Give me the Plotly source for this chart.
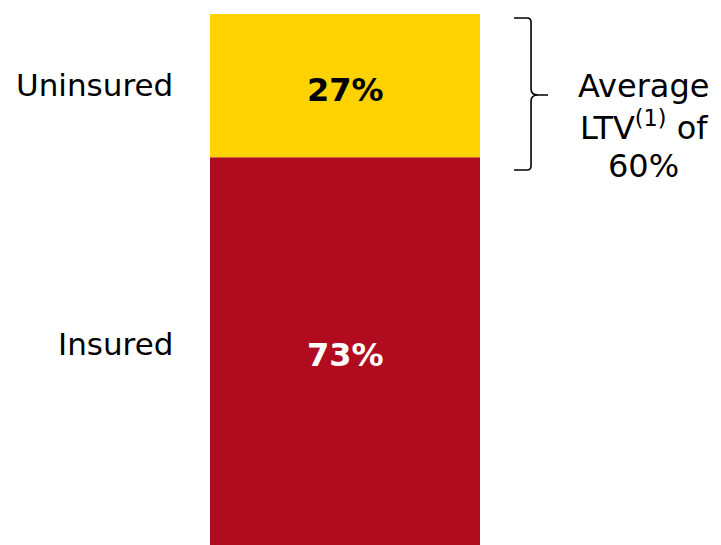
import plotly.graph_objects as go

categories = ["Insured", "Uninsured"]
shares = [73, 27]
colors = ["#B00B1E", "#FFD200"]
text_colors = ["white", "black"]
side_note_lines = ["Average", "LTV<sup>(1)</sup> of", "60%"]

fig = go.Figure()
base = 0
for cat, val, col, tc in zip(categories, shares, colors, text_colors):
    fig.add_trace(go.Bar(x=[0], y=[val], base=[base], width=1, marker_color=col,
                         marker_line_width=0, name=cat, hoverinfo="skip"))
    mid = base + val / 2
    fig.add_annotation(x=0, y=mid, xref="x", yref="y", text=f"<b>{val}%</b>",
                       showarrow=False, yshift=-4,
                       font=dict(family="DejaVu Sans", size=32, color=tc))
    fig.add_annotation(x=-0.5, y=mid, xref="x", yref="y", text=cat,
                       showarrow=False, xanchor="right", xshift=-35,
                       yshift=(1 if cat == "Uninsured" else 7),
                       font=dict(family="DejaVu Sans", size=31, color="black"))
    base += val

# bracket around uninsured segment
fig.add_shape(type="path", xref="paper", yref="paper",
              path=("M 1.126,0.9925 L 1.174,0.9925 Q 1.189,0.9925 1.189,0.985 "
                    "L 1.189,0.8588 Q 1.189,0.8475 1.215,0.8475 L 1.252,0.8475 "
                    "L 1.215,0.8475 Q 1.189,0.8475 1.189,0.8363 "
                    "L 1.189,0.7137 Q 1.189,0.7062 1.174,0.7062 L 1.126,0.7062"),
              line=dict(color="black", width=1.6))

line_centers = [0.8653, 0.7891, 0.7137]
for txt, yc in zip(side_note_lines, line_centers):
    fig.add_annotation(x=1.607, y=yc, xref="paper", yref="paper", text=txt,
                       showarrow=False, xanchor="center", yanchor="middle", align="center",
                       font=dict(family="DejaVu Sans", size=32, color="black"))

fig.update_layout(
    width=721, height=545, barmode="overlay", showlegend=False,
    margin=dict(l=210, r=241, t=14, b=0),
    plot_bgcolor="white", paper_bgcolor="white",
    xaxis=dict(range=[-0.5, 0.5], visible=False),
    yaxis=dict(range=[0, 100], visible=False),
)
fig.write_html("out.html")
